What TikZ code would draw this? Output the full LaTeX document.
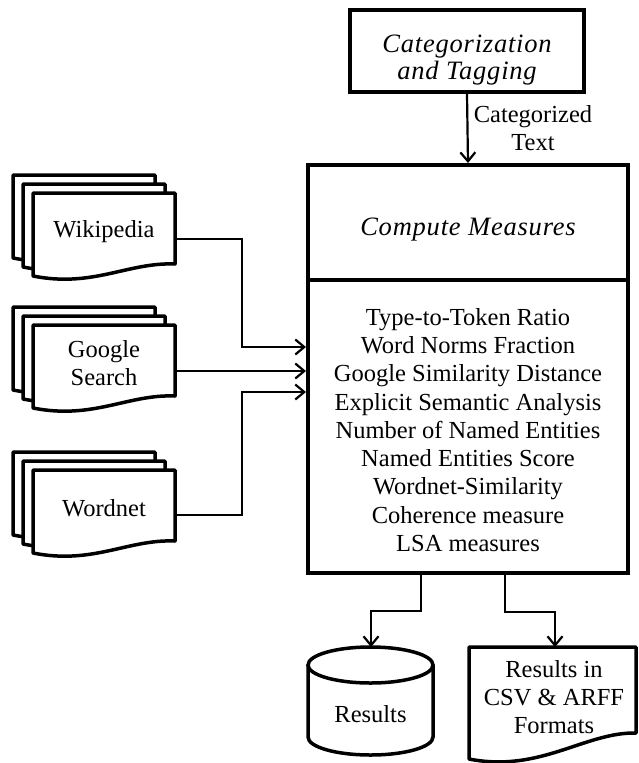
\documentclass[tikz,border=0pt]{standalone}
\usepackage{fontspec}
\setmainfont{Liberation Serif}
\newfontfamily\itfam[LetterSpace=3]{Liberation Serif Italic}
\usetikzlibrary{arrows.meta}
\tikzset{
  txt/.style={font=\fontsize{24.5}{28.3}\selectfont, align=center, inner sep=0pt},
  ittxt/.style={font=\fontsize{26.5}{27.5}\selectfont\itfam, align=center, inner sep=0pt},
  box/.style={draw, line width=3.5pt, fill=white, inner sep=0pt},
  conn/.style={line width=2.2pt, -{Straight Barb[length=9pt,width=15pt,line width=2.2pt]}},
  docline/.style={draw, line width=3.5pt, fill=white, line join=round}
}
\newcommand{\docpage}[2]{%
  \path[docline] (#1,#2) -- ({#1+142},#2) -- ({#1+142},{#2+71})
    .. controls ({#1+95},{#2+69}) and ({#1+60},{#2+95}) .. (#1,{#2+83}) -- cycle;}
\newcommand{\docstack}[1]{%
  \docpage{13}{#1-18}\docpage{23}{#1-9}\docpage{33}{#1}}
\begin{document}
\begin{tikzpicture}[x=1pt,y=-1pt]
\useasboundingbox (0,0) rectangle (639,763);

% top box
\node[box, minimum width=234pt, minimum height=82pt] (cat) at (467,51) {};
\node[ittxt] (cattext) at (467,60) {Categorization\\and Tagging};

% main box
\node[box, line width=4pt, minimum width=320pt, minimum height=408pt] (main) at (468,369) {};
\coordinate (divl) at (308,280);
\coordinate (divr) at (628,280);
\draw[line width=3.5pt] (divl -| main.west) -- (divr -| main.east);
\node[ittxt] (cm) at (468,230) {Compute Measures};
\node[txt] (meas) at (468,430) {Type-to-Token Ratio\\Word Norms Fraction\\Google Similarity Distance\\Explicit Semantic Analysis\\Number of Named Entities\\Named Entities Score\\Wordnet-Similarity\\Coherence measure\\LSA measures};

% categorized text arrow
\draw[conn] (cat.south) -- (main.north);
\node[txt] (catlbl) at (533,128) {Categorized\\Text};

% document stacks
\docstack{193}
\node[txt] (wiki) at (104,232) {Wikipedia};
\docstack{325}
\node[txt] (goog) at (104,363) {Google\\Search};
\docstack{470}
\node[txt] (wn) at (104,508) {Wordnet};

\coordinate (wikiout) at (175,239);
\coordinate (googout) at (175,371);
\coordinate (wnout) at (175,515);
\coordinate (w1) at (242,347);
\coordinate (g1) at (242,371);
\coordinate (n1) at (242,392);
\draw[conn] (wikiout) -| (w1) -- (w1 -| main.west);
\draw[conn] (googout) -- (g1 -| main.west);
\draw[conn] (wnout) -| (n1) -- (n1 -| main.west);

% results cylinder
\path[fill=white] (308,665) -- (308,737) .. controls (308,747) and (336,755) .. (370.5,755)
  .. controls (405,755) and (433,747) .. (433,737) -- (433,665) -- cycle;
\draw[line width=3.5pt] (308,665) -- (308,737) .. controls (308,747) and (336,755) .. (370.5,755)
  .. controls (405,755) and (433,747) .. (433,737) -- (433,665);
\draw[line width=3.5pt, fill=white] (370.5,665) ellipse [x radius=62.5, y radius=18];
\node[txt] (res) at (370.5,714) {Results};
\coordinate (restop) at (371,647);

% results document
\path[docline] (469,647) -- (636,647) -- (636,733)
  .. controls (585,732) and (540,773) .. (469,759) -- cycle;
\node[txt] (resdoc) at (554,697) {Results in\\CSV \& ARFF\\Formats};
\coordinate (doctop) at (555,647);

% output connectors
\coordinate (r1) at (421,611);
\coordinate (r2) at (505,612);
\draw[conn] (r1 |- main.south) -- (r1) -| (restop);
\draw[conn] (r2 |- main.south) -- (r2) -| (doctop);
\end{tikzpicture}
\end{document}
